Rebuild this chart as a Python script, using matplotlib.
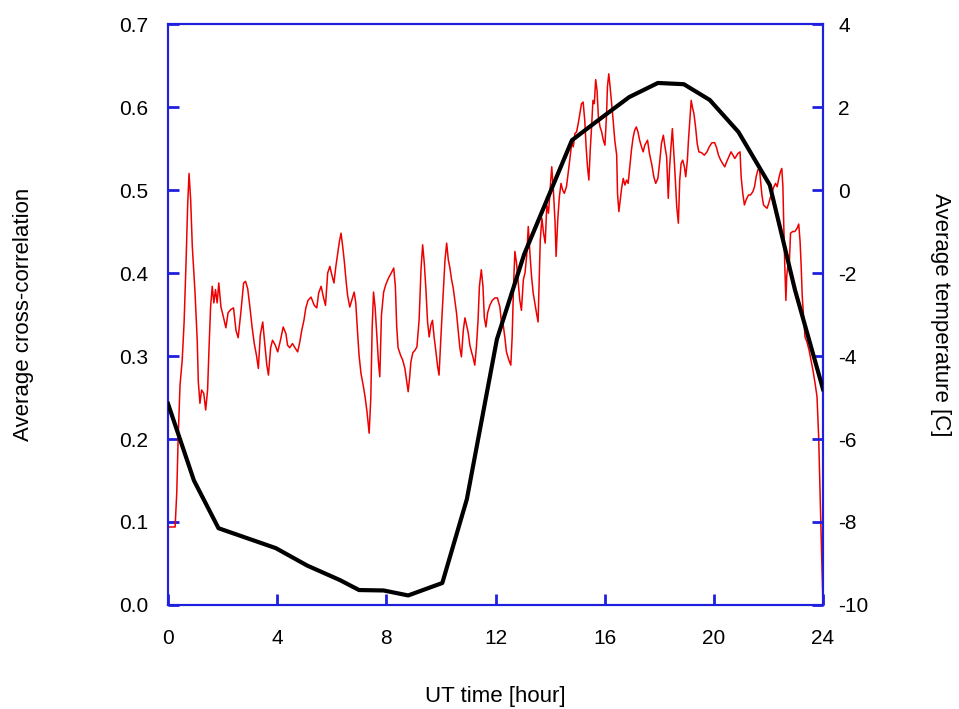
import matplotlib.pyplot as plt

plt.rcParams['font.family'] = ['Liberation Sans', 'DejaVu Sans']
plt.rcParams['axes.unicode_minus'] = False

# average cross-correlation (left axis)
corr_hour = [
    0.0, 0.26, 0.32, 0.37, 0.44, 0.52, 0.59, 0.66, 0.72, 0.77, 0.83, 0.89, 0.99,
    1.07, 1.11, 1.17, 1.23, 1.31, 1.38, 1.45, 1.5, 1.56, 1.62, 1.68, 1.74, 1.8,
    1.86, 1.94, 2.03, 2.12, 2.2, 2.3, 2.4, 2.49, 2.57, 2.67, 2.77, 2.84, 2.92,
    3.0, 3.08, 3.16, 3.24, 3.31, 3.38, 3.47, 3.55, 3.62, 3.68, 3.76, 3.83, 3.93,
    4.02, 4.12, 4.22, 4.32, 4.38, 4.46, 4.56, 4.65, 4.75, 4.83, 4.9, 4.98, 5.05,
    5.13, 5.24, 5.36, 5.45, 5.52, 5.61, 5.7, 5.77, 5.85, 5.93, 6.0, 6.08, 6.15,
    6.22, 6.28, 6.34, 6.4, 6.46, 6.52, 6.58, 6.66, 6.73, 6.82, 6.88, 6.94, 7.0,
    7.07, 7.15, 7.22, 7.29, 7.37, 7.43, 7.48, 7.53, 7.59, 7.65, 7.71, 7.76, 7.82,
    7.9, 7.98, 8.08, 8.18, 8.27, 8.33, 8.38, 8.43, 8.52, 8.6, 8.68, 8.74, 8.8,
    8.85, 8.9, 8.97, 9.05, 9.12, 9.2, 9.27, 9.33, 9.39, 9.45, 9.51, 9.57, 9.63,
    9.69, 9.75, 9.81, 9.88, 9.93, 9.98, 10.03, 10.09, 10.15, 10.21, 10.27, 10.33,
    10.39, 10.45, 10.51, 10.57, 10.63, 10.69, 10.75, 10.82, 10.88, 10.94, 11.0,
    11.06, 11.12, 11.18, 11.24, 11.3, 11.36, 11.41, 11.48, 11.54, 11.59, 11.65,
    11.71, 11.79, 11.88, 11.98, 12.07, 12.16, 12.22, 12.28, 12.34, 12.4, 12.49,
    12.56, 12.61, 12.66, 12.71, 12.77, 12.83, 12.89, 12.95, 13.02, 13.08, 13.14,
    13.2, 13.26, 13.32, 13.38, 13.44, 13.5, 13.56, 13.6, 13.64, 13.7, 13.76,
    13.82, 13.88, 13.94, 14.0, 14.06, 14.12, 14.18, 14.22, 14.28, 14.34, 14.4,
    14.46, 14.52, 14.6, 14.66, 14.72, 14.79, 14.85, 14.91, 14.97, 15.03, 15.09,
    15.15, 15.21, 15.27, 15.32, 15.37, 15.42, 15.47, 15.52, 15.57, 15.62, 15.67,
    15.72, 15.77, 15.83, 15.89, 15.95, 16.01, 16.07, 16.1, 16.15, 16.2, 16.25,
    16.31, 16.37, 16.44, 16.47, 16.52, 16.57, 16.62, 16.68, 16.74, 16.8, 16.86,
    16.92, 16.98, 17.04, 17.1, 17.16, 17.22, 17.28, 17.35, 17.41, 17.47, 17.57,
    17.64, 17.73, 17.8, 17.87, 17.95, 18.01, 18.08, 18.15, 18.21, 18.27, 18.33,
    18.38, 18.43, 18.48, 18.52, 18.57, 18.64, 18.7, 18.75, 18.8, 18.86, 18.92,
    18.97, 19.03, 19.07, 19.12, 19.17, 19.22, 19.27, 19.33, 19.39, 19.45, 19.55,
    19.65, 19.75, 19.83, 19.93, 20.03, 20.1, 20.17, 20.25, 20.32, 20.4, 20.47,
    20.55, 20.63, 20.77, 20.88, 20.96, 21.0, 21.06, 21.12, 21.18, 21.27, 21.34,
    21.43, 21.49, 21.55, 21.61, 21.67, 21.71, 21.76, 21.82, 21.88, 21.95, 22.01,
    22.08, 22.14, 22.2, 22.26, 22.32, 22.38, 22.44, 22.49, 22.53, 22.56, 22.6,
    22.64, 22.67, 22.71, 22.76, 22.81, 22.89, 22.97, 23.05, 23.11, 23.16, 23.2,
    23.24, 23.29, 23.34, 23.41, 23.49, 23.56, 23.63, 23.71, 23.78, 23.84, 23.9,
    23.95, 24.0,
]
corr_value = [
    0.094, 0.094, 0.135, 0.199, 0.265, 0.295, 0.341, 0.412, 0.482, 0.52, 0.488,
    0.432, 0.376, 0.319, 0.269, 0.243, 0.259, 0.255, 0.235, 0.259, 0.307, 0.359,
    0.384, 0.364, 0.38, 0.364, 0.388, 0.359, 0.347, 0.334, 0.352, 0.356, 0.358,
    0.331, 0.322, 0.353, 0.388, 0.39, 0.381, 0.359, 0.335, 0.315, 0.301, 0.285,
    0.325, 0.341, 0.313, 0.289, 0.277, 0.31, 0.319, 0.313, 0.305, 0.319, 0.335,
    0.327, 0.313, 0.31, 0.315, 0.31, 0.305, 0.317, 0.331, 0.343, 0.358, 0.367,
    0.371, 0.361, 0.358, 0.376, 0.384, 0.37, 0.361, 0.4, 0.408, 0.398, 0.388,
    0.408, 0.424, 0.438, 0.448, 0.432, 0.414, 0.392, 0.373, 0.359, 0.367, 0.377,
    0.364, 0.331, 0.301, 0.279, 0.265, 0.251, 0.233, 0.207, 0.249, 0.334, 0.377,
    0.358, 0.325, 0.293, 0.275, 0.349, 0.377, 0.386, 0.394, 0.4, 0.406, 0.384,
    0.335, 0.31, 0.301, 0.295, 0.285, 0.271, 0.257, 0.273, 0.293, 0.304, 0.307,
    0.311, 0.343, 0.404, 0.434, 0.412, 0.38, 0.341, 0.323, 0.337, 0.343, 0.323,
    0.307, 0.287, 0.277, 0.311, 0.343, 0.38, 0.416, 0.436, 0.416, 0.406, 0.392,
    0.382, 0.367, 0.352, 0.331, 0.311, 0.299, 0.331, 0.346, 0.337, 0.328, 0.313,
    0.305, 0.298, 0.289, 0.311, 0.343, 0.384, 0.404, 0.384, 0.346, 0.335, 0.352,
    0.361, 0.367, 0.37, 0.37, 0.359, 0.34, 0.338, 0.323, 0.305, 0.295, 0.289,
    0.323, 0.384, 0.426, 0.412, 0.39, 0.367, 0.355, 0.392, 0.4, 0.42, 0.456,
    0.424, 0.396, 0.376, 0.364, 0.352, 0.341, 0.392, 0.44, 0.466, 0.448, 0.436,
    0.482, 0.472, 0.5, 0.528, 0.5, 0.462, 0.42, 0.464, 0.492, 0.508, 0.5, 0.496,
    0.504, 0.52, 0.536, 0.556, 0.552, 0.568, 0.57, 0.58, 0.592, 0.604, 0.606,
    0.584, 0.552, 0.528, 0.512, 0.548, 0.576, 0.608, 0.604, 0.633, 0.62, 0.588,
    0.576, 0.57, 0.56, 0.554, 0.592, 0.624, 0.64, 0.624, 0.606, 0.584, 0.56,
    0.542, 0.496, 0.474, 0.488, 0.502, 0.514, 0.506, 0.512, 0.508, 0.528, 0.548,
    0.563, 0.572, 0.576, 0.57, 0.56, 0.552, 0.546, 0.554, 0.56, 0.544, 0.53,
    0.516, 0.508, 0.514, 0.532, 0.556, 0.566, 0.552, 0.54, 0.49, 0.528, 0.552,
    0.574, 0.552, 0.524, 0.48, 0.46, 0.512, 0.532, 0.536, 0.528, 0.516, 0.536,
    0.56, 0.584, 0.608, 0.599, 0.592, 0.576, 0.556, 0.546, 0.545, 0.542, 0.546,
    0.552, 0.557, 0.557, 0.551, 0.542, 0.536, 0.532, 0.528, 0.534, 0.54, 0.546,
    0.538, 0.544, 0.546, 0.516, 0.496, 0.482, 0.488, 0.494, 0.494, 0.498, 0.504,
    0.516, 0.524, 0.526, 0.512, 0.494, 0.482, 0.48, 0.478, 0.484, 0.492, 0.498,
    0.504, 0.508, 0.504, 0.514, 0.522, 0.526, 0.504, 0.46, 0.408, 0.367, 0.396,
    0.408, 0.408, 0.448, 0.45, 0.45, 0.454, 0.459, 0.438, 0.408, 0.371, 0.347,
    0.323, 0.317, 0.307, 0.295, 0.283, 0.267, 0.251, 0.203, 0.123, 0.06, 0.0,
]

# average temperature (right axis)
temp_hour = [0.0, 0.95, 1.85, 3.95, 5.1, 6.3, 7.0, 7.9, 8.8, 10.05, 10.95,
             12.05, 13.05, 14.8, 15.8, 16.9, 17.95, 18.9, 19.85, 20.9, 22.05,
             22.97, 24.0]
temp_value = [-5.15, -7.0, -8.15, -8.63, -9.05, -9.4, -9.64, -9.65, -9.77,
              -9.47, -7.45, -3.6, -1.55, 1.2, 1.7, 2.24, 2.58, 2.55, 2.17, 1.4,
              0.12, -2.4, -4.8]

x_ticks = [0, 4, 8, 12, 16, 20, 24]
corr_ticks = [0.0, 0.1, 0.2, 0.3, 0.4, 0.5, 0.6, 0.7]
temp_ticks = [-10, -8, -6, -4, -2, 0, 2, 4]

axis_blue = '#1f1fe0'

fig = plt.figure(figsize=(9.59, 7.09), dpi=100)
ax = fig.add_axes([0.1752, 0.1467, 0.683, 0.8194])
ax2 = ax.twinx()

ax.plot(corr_hour, corr_value, color='#ee0000', lw=1.1, zorder=2)
ax2.plot(temp_hour, temp_value, color='black', lw=3, zorder=3)

ax.set_xlim(0, 24)
ax.set_ylim(0, 0.7)
ax2.set_ylim(-10, 4)
ax.set_xticks(x_ticks)
ax.set_yticks(corr_ticks)
ax.set_yticklabels([f"{v:.1f}" for v in corr_ticks])
ax2.set_yticks(temp_ticks)

for a in (ax, ax2):
    for sp in a.spines.values():
        sp.set_color(axis_blue)
        sp.set_linewidth(1.5)

ax.tick_params(axis='x', direction='in', length=8, width=2, color=axis_blue,
               labelsize=15, pad=17, top=False)
ax.tick_params(axis='y', direction='in', length=8, width=2, color=axis_blue,
               labelsize=15, pad=14, right=False)
ax2.tick_params(axis='y', direction='in', length=8, width=2, color=axis_blue,
                labelsize=15, pad=11)

ax.set_xlabel('UT time [hour]', fontsize=16)
ax.set_ylabel('Average cross-correlation', fontsize=16)
ax2.set_ylabel('Average temperature [C]', fontsize=16, rotation=270)
ax.xaxis.set_label_coords(0.5, -0.14)
ax.yaxis.set_label_coords(-0.205, 0.5)
ax2.yaxis.set_label_coords(1.195, 0.5)

fig.savefig('out.png', dpi=100)
